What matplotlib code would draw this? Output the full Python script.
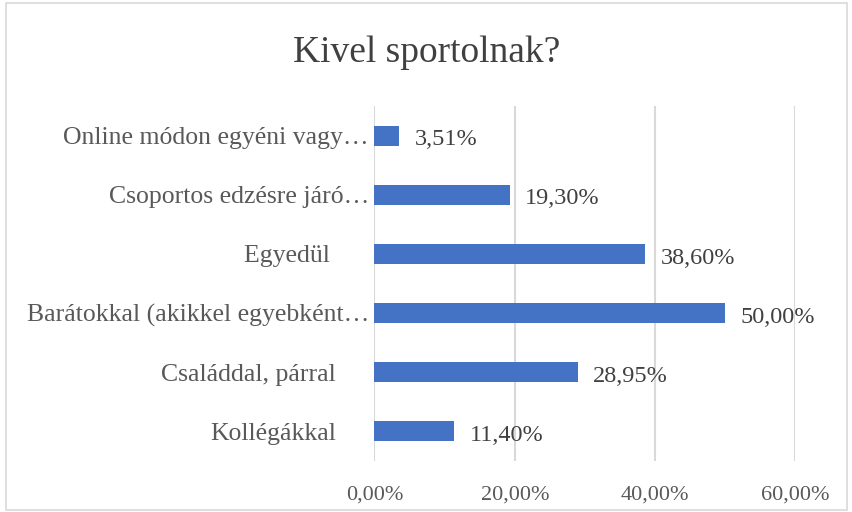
import matplotlib.pyplot as plt
from matplotlib.patches import Rectangle
from matplotlib.transforms import ScaledTranslation

plt.rcParams['font.family'] = ['Liberation Serif', 'DejaVu Serif']

categories = ['Kollégákkal', 'Családdal, párral', 'Barátokkal (akikkel egyebként…',
              'Egyedül ', 'Csoportos edzésre járó…', 'Online módon egyéni vagy…']
values = [11.40, 28.95, 50.00, 38.60, 19.30, 3.51]
ticks = [0, 20, 40, 60]

fig = plt.figure(figsize=(8.53, 5.12), dpi=100)
fig.patches.append(Rectangle((0.007, 0.004), 0.986, 0.99, transform=fig.transFigure,
                             fill=False, edgecolor='#D9D9D9', linewidth=1.2))
ax = fig.add_axes([0.439, 0.0996, 0.4935, 0.6934])

y = range(len(categories))
ax.barh(y, values, height=0.34, color='#4472C4', zorder=3)
for i, v in zip(y, values):
    ax.annotate(f'{v:.2f}%'.replace('.', ','), (v, i), xytext=(11, -3),
                textcoords='offset points', va='center', ha='left',
                fontsize=17.5, color='#404040', zorder=4)

ax.set_xlim(0, 60)
ax.set_ylim(-0.5, len(categories) - 0.5)
ax.set_xticks(ticks)
ax.set_xticklabels([f'{t:.2f}%'.replace('.', ',') for t in ticks])
ax.set_yticks(list(y))
ax.set_yticklabels(categories, fontsize=18.5)
ax.tick_params(axis='both', length=0, labelcolor='#595959')
ax.tick_params(axis='x', pad=18, labelsize=16)
ax.tick_params(axis='y', pad=4)
ax.grid(axis='x', color='#D9D9D9', linewidth=1.5, zorder=0)
for s in ax.spines.values():
    s.set_visible(False)

# labels that fit are drawn further from the axis than truncated ones
for lab in ax.get_yticklabels():
    if not lab.get_text().endswith('…'):
        lab.set_transform(lab.get_transform() +
                          ScaledTranslation(-0.33, 0, fig.dpi_scale_trans))

fig.suptitle('Kivel sportolnak?', y=0.93, fontsize=27, color='#404040')
fig.savefig('out.png', dpi=100)
